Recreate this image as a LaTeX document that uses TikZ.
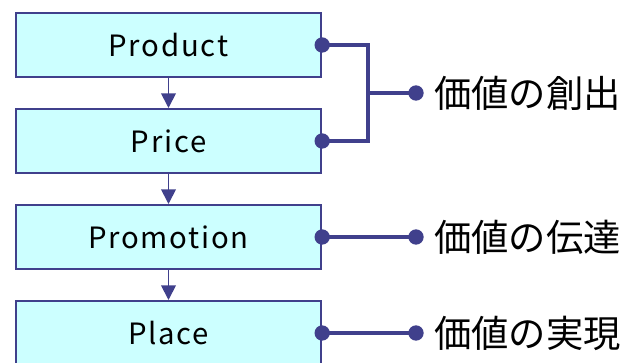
\documentclass[tikz,border=0pt]{standalone}
\usepackage{fontspec}
\setmainfont{Noto Sans CJK JP}
\newfontfamily\boxfont[LetterSpace=6]{Noto Sans CJK JP}
\usetikzlibrary{arrows.meta}
\definecolor{boxline}{RGB}{64,64,140}
\definecolor{boxfill}{RGB}{204,255,255}

\begin{document}
\begin{tikzpicture}
[x=0.75pt,y=-0.75pt,%
  boxdecorate/.style={draw=boxline,fill=boxfill,line width=1.5pt,minimum width=229pt,minimum height=48pt,inner sep=0pt,font=\boxfont\fontsize{22}{26}\selectfont},%
  arrowdecorate/.style={draw=boxline,line width=1.4pt,-{Triangle[width=11pt,length=11pt]}},%
  linedecorate/.style={draw=boxline,line width=3pt},%
  dotdecorate/.style={shape=circle,fill=boxline,inner sep=0pt,minimum size=11.5pt},%
  labeldecorate/.style={anchor=west,inner sep=0pt,font=\fontsize{28}{30}\selectfont}]
\useasboundingbox (0,0) rectangle (625,363);
%% boxes of the four P
\foreach \nodename/\y/\txt in {product/45/Product, price/141/Price, promotion/237/Promotion, place/333/Place}
{
  \node (\nodename) at (168.5,\y) [boxdecorate] {\txt};
  \node (\nodename-dot) at (\nodename.east) [dotdecorate] {};
}
%% arrows between boxes
\foreach \startnode/\endnode in {product/price, price/promotion, promotion/place}
{
  \draw[arrowdecorate] (\startnode.south) -- (\endnode.north);
}
%% dots and labels on the right
\foreach \nodename/\y/\txt in {creation/93/価値の創出, delivery/237/価値の伝達, realization/333/価値の実現}
{
  \node (\nodename-dot) at (416,\y) [dotdecorate] {};
  \node (\nodename) at (434,\y) [labeldecorate] {\txt};
}
%% connectors
\coordinate (bracket) at (368,93);
\draw[linedecorate] (product-dot.center) -| (bracket) |- (price-dot.center);
\draw[linedecorate] (bracket) -- (creation-dot.center);
\draw[linedecorate] (promotion-dot.center) -- (delivery-dot.center);
\draw[linedecorate] (place-dot.center) -- (realization-dot.center);
\end{tikzpicture}
\end{document}
